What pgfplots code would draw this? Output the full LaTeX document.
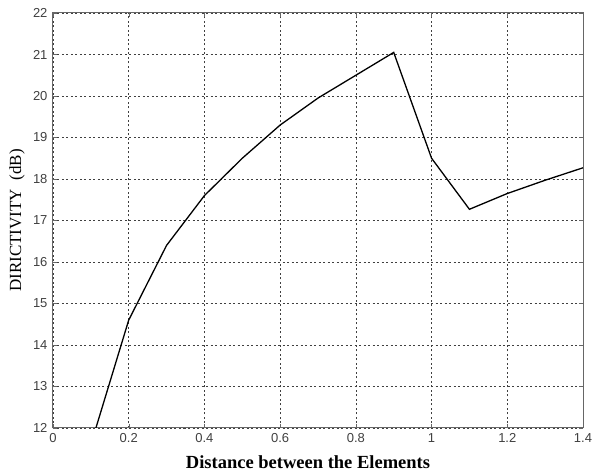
\documentclass[border=0pt]{standalone}
\usepackage{pgfplots}
\pgfplotsset{compat=1.18}
\usepackage{fontspec}
\setmainfont{Liberation Serif}
\newfontfamily\tickfont{Liberation Sans}
\begin{document}
\begin{tikzpicture}[x=1pt,y=1pt]
\useasboundingbox (-53,-43) rectangle (539,428);
\begin{axis}[
  at={(0,0)}, anchor=origin,
  scale only axis, width=530pt, height=415pt,
  xmin=0, xmax=1.4, ymin=12, ymax=22,
  xtick={0,0.2,...,1.4}, ytick={12,13,...,22},
  xticklabels={0,0.2,0.4,0.6,0.8,1,1.2,1.4},
  grid=major,
  major grid style={black!75, line width=0.6pt, dash pattern=on 2pt off 2.5pt},
  axis line style={black!60, line width=1pt},
  tick style={black!60},
  tick align=inside, major tick length=4pt,
  tick label style={font=\tickfont\fontsize{13}{15}\selectfont, text=black!75},
  xticklabel style={yshift=-2pt},
  yticklabel style={xshift=-2pt},
  /pgf/number format/assume math mode=true,
  xlabel={\bfseries Distance between the Elements},
  ylabel={DIRICTIVITY\ \ (dB)},
  xlabel style={font=\fontsize{18.5}{20}\selectfont, at={(axis description cs:0.5,0)}, anchor=center, yshift=-34pt, xshift=-10pt},
  ylabel style={font=\fontsize{17}{19}\selectfont, at={(axis description cs:0,0.5)}, anchor=center, yshift=36pt},
]
\addplot[black, line width=1.3pt] coordinates {
(0.1,11.6) (0.2,14.6) (0.3,16.4) (0.4,17.6) (0.5,18.5) (0.6,19.3) (0.7,19.95) (0.8,20.5) (0.9,21.05)
(1.0,18.5) (1.1,17.27) (1.2,17.65) (1.3,17.97) (1.4,18.27)
};
\end{axis}
\end{tikzpicture}
\end{document}
